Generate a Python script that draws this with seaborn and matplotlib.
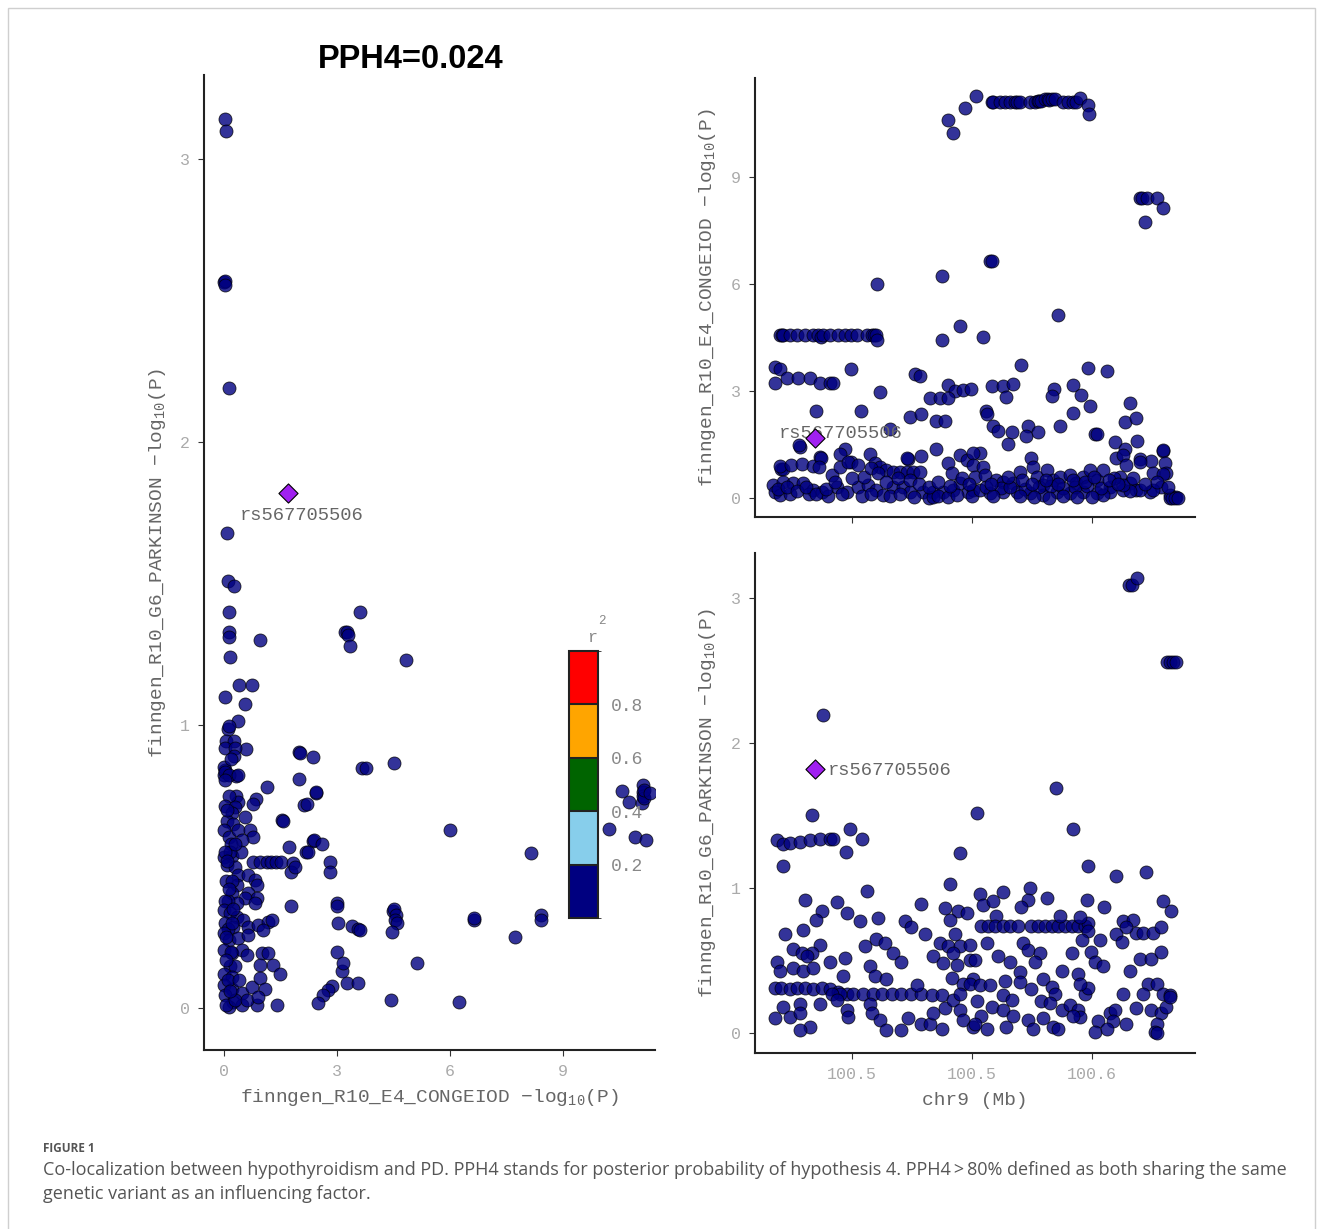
import pandas as pd
import seaborn as sns
import matplotlib as mpl
import matplotlib.pyplot as plt
from matplotlib.colors import ListedColormap, BoundaryNorm
from matplotlib.ticker import FuncFormatter
from matplotlib.patches import Rectangle

# ---- values ----
lead_snp = "rs567705506"
lead_pos = 100.5173          # chr9 position, Mb
lead_e4 = 1.69               # finngen_R10_E4_CONGEIOD -log10(P)
lead_pd = 1.82               # finngen_R10_G6_PARKINSON -log10(P)

# left panel: (E4 -log10P, PD -log10P)
scatter_pairs = [
    (0.03, 3.14), (0.05, 3.10), (0.00, 2.565), (0.02, 2.57), (0.04, 2.555), (0.13, 2.19), (0.09, 1.68),
    (0.10, 1.51), (0.27, 1.49), (0.12, 1.40), (0.12, 1.33), (0.13, 1.31), (0.15, 1.24), (0.95, 1.30),
    (0.04, 1.10), (0.40, 1.14), (0.74, 1.14), (0.56, 1.075), (0.36, 1.015), (0.10, 0.985), (0.12, 0.996),
    (0.06, 0.945), (0.27, 0.945), (0.59, 0.916), (0.04, 0.92), (0.29, 0.92), (0.27, 0.89),
    (0.02, 0.84), (0.00, 0.825), (0.31, 0.82), (0.00, 0.853), (0.04, 0.835), (0.12, 0.823), (0.03, 0.806),
    (0.38, 0.823), (1.13, 0.78), (0.86, 0.74), (0.77, 0.72), (0.31, 0.75), (0.37, 0.73), (0.12, 0.75),
    (0.03, 0.715), (0.29, 0.711), (0.20, 0.688), (0.56, 0.676), (0.08, 0.66), (0.25, 0.65),
    (0.00, 0.629), (0.12, 0.605), (0.38, 0.629), (0.69, 0.629), (0.78, 0.605), (0.47, 0.594), (0.18, 0.58),
    (0.00, 0.535), (0.20, 0.537), (0.45, 0.552), (0.07, 0.505), (0.29, 0.50), (0.15, 0.55), (0.02, 0.55),
    (0.77, 0.515), (0.95, 0.515), (1.13, 0.515), (1.26, 0.515), (1.39, 0.515), (1.52, 0.515),
    (0.38, 0.47), (0.65, 0.47), (0.82, 0.452), (0.87, 0.435), (0.34, 0.435), (0.20, 0.405), (0.65, 0.405),
    (0.87, 0.388), (0.56, 0.388), (0.34, 0.37), (0.82, 0.37), (0.05, 0.45), (0.22, 0.45), (0.10, 0.38),
    (0.03, 0.38), (0.00, 0.346), (0.16, 0.335), (0.34, 0.323), (0.03, 0.30), (0.25, 0.287), (0.51, 0.311),
    (0.65, 0.287), (0.91, 0.293), (1.18, 0.305), (1.04, 0.276), (1.27, 0.311), (0.25, 0.35), (0.10, 0.28),
    (0.00, 0.264), (0.12, 0.24), (0.38, 0.246), (0.65, 0.258), (0.00, 0.205), (0.20, 0.193), (0.47, 0.205),
    (0.60, 0.187), (0.06, 0.25), (0.18, 0.20), (1.00, 0.193), (1.18, 0.193), (1.31, 0.152), (1.49, 0.122),
    (0.96, 0.152), (0.15, 0.15), (0.30, 0.15), (0.00, 0.122), (0.20, 0.111), (0.00, 0.081), (0.20, 0.069),
    (0.03, 0.046), (0.25, 0.022), (0.47, 0.052), (0.73, 0.075), (0.96, 0.105), (1.09, 0.069), (0.10, 0.10),
    (0.40, 0.10), (0.12, 0.005), (0.47, 0.011), (0.87, 0.011), (1.40, 0.011), (0.05, 0.01), (0.30, 0.03),
    (0.60, 0.03), (0.90, 0.04), (0.08, 0.52), (0.14, 0.42), (0.22, 0.30), (0.06, 0.17), (0.16, 0.06),
    (0.28, 0.58), (0.09, 0.70), (0.18, 0.88),
    (1.54, 0.665), (1.57, 0.66), (1.99, 0.905), (2.01, 0.90), (2.35, 0.886), (1.99, 0.81), (2.13, 0.716),
    (2.20, 0.72), (2.43, 0.76), (2.45, 0.765), (1.73, 0.57), (2.37, 0.59), (2.40, 0.595), (2.59, 0.58),
    (2.17, 0.55), (2.22, 0.55), (2.81, 0.515), (2.81, 0.48), (1.84, 0.514), (1.79, 0.48), (1.88, 0.50),
    (1.79, 0.36), (3.20, 1.33), (3.25, 1.33), (3.30, 1.32), (3.34, 1.28), (3.60, 1.40), (4.83, 1.23),
    (3.65, 0.85), (3.77, 0.85), (4.51, 0.865),
    (2.99, 0.37), (3.01, 0.36), (3.03, 0.30), (3.39, 0.29), (3.55, 0.28), (3.61, 0.277), (2.99, 0.20),
    (3.12, 0.13), (3.16, 0.16), (3.25, 0.09), (3.56, 0.09), (2.86, 0.077), (2.77, 0.065), (2.62, 0.046),
    (2.50, 0.017), (4.49, 0.342), (4.52, 0.35), (4.55, 0.33), (4.54, 0.31), (4.58, 0.30), (4.45, 0.27),
    (4.43, 0.03), (5.12, 0.16), (6.00, 0.63), (6.22, 0.02), (6.62, 0.313), (6.64, 0.318), (7.73, 0.25),
    (8.13, 0.547), (8.40, 0.33), (8.41, 0.31),
    (10.21, 0.632), (10.56, 0.767), (10.74, 0.728), (10.90, 0.604), (11.09, 0.724), (11.11, 0.788),
    (11.11, 0.763), (11.12, 0.75), (11.14, 0.742), (11.15, 0.77), (11.19, 0.594), (11.30, 0.76),
]

# top right: (position Mb, E4 -log10P)
e4_region = [
    (100.5508, 11.25), (100.5485, 10.92), (100.5451, 10.59), (100.5461, 10.23),
    (100.5541, 11.10), (100.5545, 11.08), (100.5558, 11.10), (100.5569, 11.10), (100.5579, 11.10),
    (100.5590, 11.10), (100.5595, 11.10), (100.5600, 11.10), (100.5621, 11.10), (100.5631, 11.10),
    (100.5638, 11.12), (100.5640, 11.12), (100.5645, 11.12), (100.5652, 11.17), (100.5659, 11.17),
    (100.5660, 11.15), (100.5666, 11.17), (100.5673, 11.17), (100.5690, 11.10), (100.5701, 11.10),
    (100.5711, 11.10), (100.5718, 11.10), (100.5726, 11.20), (100.5742, 11.01), (100.5744, 10.76),
    (100.5850, 8.39), (100.5855, 8.39), (100.5864, 8.39), (100.5885, 8.39), (100.5860, 7.73),
    (100.5899, 8.13), (100.5538, 6.63), (100.5541, 6.63), (100.5438, 6.21), (100.5303, 6.00),
    (100.5680, 5.13), (100.5476, 4.83), (100.5524, 4.52), (100.5438, 4.42),
    (100.5100, 4.57), (100.5104, 4.57), (100.5107, 4.57), (100.5121, 4.57), (100.5135, 4.57),
    (100.5152, 4.57), (100.5169, 4.57), (100.5180, 4.57), (100.5185, 4.50), (100.5190, 4.57),
    (100.5204, 4.57), (100.5222, 4.57), (100.5235, 4.57), (100.5249, 4.57), (100.5260, 4.57),
    (100.5281, 4.57), (100.5291, 4.57), (100.5296, 4.57), (100.5301, 4.57), (100.5303, 4.42),
    (100.5090, 3.66), (100.5100, 3.61), (100.5090, 3.23), (100.5114, 3.37), (100.5138, 3.37),
    (100.5163, 3.37), (100.5183, 3.23), (100.5204, 3.23), (100.5210, 3.23), (100.5249, 3.61),
    (100.5381, 3.47), (100.5392, 3.42), (100.5308, 2.98), (100.5603, 3.73), (100.5742, 3.64),
    (100.5781, 3.56), (100.5451, 3.17), (100.5465, 3.00), (100.5482, 3.03), (100.5499, 3.05),
    (100.5541, 3.14), (100.5565, 3.14), (100.5586, 3.19), (100.5572, 2.83), (100.5671, 3.05),
    (100.5668, 2.86), (100.5711, 3.17), (100.5728, 2.89), (100.5746, 2.58), (100.5711, 2.39),
    (100.5413, 2.81), (100.5434, 2.79), (100.5451, 2.81), (100.5426, 2.17), (100.5444, 2.17),
    (100.5372, 2.27), (100.5393, 2.36), (100.5175, 2.44), (100.5268, 2.44), (100.5529, 2.44),
    (100.5531, 2.36), (100.5544, 2.01), (100.5555, 1.87), (100.5583, 1.86), (100.5576, 1.50),
    (100.5617, 2.01), (100.5613, 1.73), (100.5638, 1.86), (100.5684, 2.01), (100.5756, 1.78),
    (100.5760, 1.78), (100.5829, 2.67), (100.5819, 2.14), (100.5843, 2.23), (100.5798, 1.57),
    (100.5844, 1.59), (100.5850, 1.08), (100.5874, 1.03), (100.5899, 1.31), (100.5819, 1.36),
    (100.5329, 1.92), (100.5142, 1.42), (100.5235, 1.36), (100.5426, 1.36), (100.5517, 1.27),
    (100.5249, 1.01), (100.5367, 1.08), (100.5395, 1.17), (100.5183, 1.14), (100.5103, 0.80),
    (100.5106, 0.82), (100.5288, 1.22), (100.5140, 1.48),
    (100.5101, 0.90), (100.5124, 0.92), (100.5145, 0.95), (100.5169, 0.90), (100.5185, 1.11),
    (100.5182, 0.88), (100.5086, 0.36), (100.5107, 0.46), (100.5128, 0.41), (100.5149, 0.41),
    (100.5169, 0.22), (100.5187, 0.18), (100.5090, 0.18), (100.5208, 0.64), (100.5225, 0.88),
    (100.5225, 1.23), (100.5242, 1.02), (100.5263, 0.92), (100.5298, 0.97), (100.5308, 0.88),
    (100.5322, 0.78), (100.5336, 0.74), (100.5350, 0.74), (100.5364, 0.74), (100.5378, 0.74),
    (100.5392, 0.74), (100.5218, 0.32), (100.5239, 0.18), (100.5263, 0.32), (100.5284, 0.36),
    (100.5301, 0.22), (100.5315, 0.08), (100.5336, 0.32), (100.5357, 0.32), (100.5371, 0.18),
    (100.5399, 0.18), (100.5419, 0.18), (100.5440, 0.18), (100.5461, 0.22), (100.5475, 0.41),
    (100.5492, 0.18), (100.5503, 0.22), (100.5364, 1.11), (100.5451, 0.97), (100.5458, 0.69),
    (100.5475, 1.20), (100.5489, 1.06), (100.5503, 1.25),
    (100.5100, 0.08), (100.5120, 0.12), (100.5160, 0.10), (100.5200, 0.05), (100.5230, 0.10),
    (100.5270, 0.05), (100.5290, 0.12), (100.5330, 0.05), (100.5350, 0.10), (100.5380, 0.03),
    (100.5410, 0.00), (100.5420, 0.02), (100.5430, 0.05), (100.5450, 0.02), (100.5470, 0.08),
    (100.5500, 0.05),
    (100.5503, 0.92), (100.5524, 0.88), (100.5506, 0.60), (100.5527, 0.64), (100.5551, 0.50),
    (100.5565, 0.46), (100.5586, 0.41), (100.5600, 0.74), (100.5624, 1.11), (100.5628, 0.88),
    (100.5635, 0.60), (100.5649, 0.36), (100.5656, 0.78), (100.5670, 0.50), (100.5683, 0.60),
    (100.5704, 0.64), (100.5718, 0.41), (100.5732, 0.60), (100.5746, 0.78), (100.5760, 0.50),
    (100.5774, 0.78), (100.5788, 0.32), (100.5801, 1.11), (100.5815, 1.20), (100.5822, 0.92),
    (100.5808, 0.60), (100.5829, 0.41), (100.5843, 0.22), (100.5850, 1.02), (100.5899, 1.34),
    (100.5902, 0.97), (100.5878, 0.69), (100.5905, 0.69), (100.5912, 0.08), (100.5926, 0.04),
    (100.5517, 0.22), (100.5537, 0.13), (100.5565, 0.18), (100.5593, 0.18), (100.5621, 0.13),
    (100.5649, 0.08), (100.5677, 0.18), (100.5704, 0.13), (100.5732, 0.18), (100.5760, 0.13),
    (100.5788, 0.18), (100.5815, 0.22), (100.5871, 0.18), (100.5895, 0.32),
    (100.5913, 0.00), (100.5918, 0.00), (100.5923, 0.00), (100.5930, 0.00), (100.5899, 0.66),
    (100.5878, 0.23), (100.5850, 0.23), (100.5829, 0.19), (100.5815, 0.37), (100.5797, 0.56),
    (100.5774, 0.09), (100.5530, 0.30), (100.5560, 0.28), (100.5580, 0.32), (100.5610, 0.26),
    (100.5640, 0.30), (100.5665, 0.34), (100.5690, 0.28), (100.5715, 0.30), (100.5740, 0.34),
    (100.5770, 0.28), (100.5600, 0.05), (100.5660, 0.00), (100.5720, 0.02), (100.5690, 0.05),
    (100.5630, 0.02), (100.5750, 0.03), (100.5545, 0.05),
    (100.5095, 0.25), (100.5115, 0.30), (100.5135, 0.20), (100.5155, 0.30), (100.5175, 0.12),
    (100.5195, 0.25), (100.5215, 0.45), (100.5250, 0.55), (100.5275, 0.60), (100.5290, 0.85),
    (100.5305, 0.70), (100.5320, 0.45), (100.5345, 0.55), (100.5370, 0.50), (100.5390, 0.40),
    (100.5410, 0.30), (100.5430, 0.45), (100.5455, 0.35), (100.5480, 0.55), (100.5495, 0.40),
    (100.5540, 0.40), (100.5575, 0.60), (100.5605, 0.50), (100.5625, 0.40), (100.5655, 0.50),
    (100.5680, 0.40), (100.5710, 0.50), (100.5735, 0.45), (100.5755, 0.60), (100.5785, 0.50),
    (100.5805, 0.40), (100.5835, 0.55), (100.5860, 0.40), (100.5885, 0.45), (100.5908, 0.30),
]

# bottom right: (position Mb, PD -log10P)
pd_region = [
    (100.5828, 3.09), (100.5833, 3.09), (100.5845, 3.14), (100.5906, 2.56), (100.5913, 2.56),
    (100.5919, 2.56), (100.5926, 2.56), (100.5190, 2.19), (100.5166, 1.50), (100.5510, 1.52),
    (100.5676, 1.69), (100.5711, 1.41), (100.5742, 1.15), (100.5801, 1.08), (100.5863, 1.11),
    (100.5093, 1.33), (100.5107, 1.30), (100.5121, 1.31), (100.5142, 1.32), (100.5163, 1.33),
    (100.5183, 1.34), (100.5204, 1.34), (100.5211, 1.34), (100.5247, 1.41), (100.5270, 1.34),
    (100.5238, 1.25), (100.5106, 1.15), (100.5282, 0.98), (100.5152, 0.92), (100.5219, 0.90),
    (100.5187, 0.84), (100.5175, 0.78), (100.5239, 0.83), (100.5267, 0.77), (100.5305, 0.79),
    (100.5360, 0.77), (100.5374, 0.73), (100.5395, 0.89), (100.5454, 1.03), (100.5475, 1.24),
    (100.5444, 0.86), (100.5472, 0.84), (100.5489, 0.83), (100.5454, 0.78),
    (100.5110, 0.68), (100.5149, 0.71), (100.5183, 0.61), (100.5166, 0.55), (100.5128, 0.58),
    (100.5145, 0.55), (100.5156, 0.53), (100.5093, 0.49), (100.5100, 0.43), (100.5128, 0.45),
    (100.5149, 0.43), (100.5169, 0.45), (100.5204, 0.49), (100.5235, 0.52), (100.5277, 0.60),
    (100.5301, 0.65), (100.5319, 0.62), (100.5336, 0.55), (100.5353, 0.49), (100.5402, 0.68),
    (100.5419, 0.53), (100.5433, 0.62), (100.5451, 0.60), (100.5465, 0.68), (100.5475, 0.60),
    (100.5496, 0.50), (100.5439, 0.48), (100.5468, 0.47), (100.5461, 0.55),
    (100.5090, 0.31), (100.5103, 0.31), (100.5121, 0.30), (100.5135, 0.31), (100.5152, 0.31),
    (100.5169, 0.30), (100.5187, 0.31), (100.5204, 0.30), (100.5222, 0.28), (100.5239, 0.27),
    (100.5253, 0.27), (100.5274, 0.27), (100.5294, 0.27), (100.5312, 0.27), (100.5333, 0.27),
    (100.5353, 0.27), (100.5374, 0.27), (100.5395, 0.27), (100.5416, 0.26), (100.5437, 0.26),
    (100.5232, 0.39), (100.5225, 0.27), (100.5288, 0.46), (100.5298, 0.39), (100.5322, 0.37),
    (100.5385, 0.33), (100.5458, 0.38), (100.5482, 0.34), (100.5503, 0.37),
    (100.5107, 0.18), (100.5090, 0.10), (100.5121, 0.11), (100.5142, 0.20), (100.5142, 0.14),
    (100.5163, 0.04), (100.5142, 0.02), (100.5183, 0.20), (100.5208, 0.27), (100.5218, 0.23),
    (100.5239, 0.16), (100.5242, 0.11), (100.5288, 0.20), (100.5291, 0.14), (100.5308, 0.09),
    (100.5322, 0.02), (100.5353, 0.02), (100.5367, 0.10), (100.5395, 0.06), (100.5412, 0.06),
    (100.5419, 0.14), (100.5437, 0.03), (100.5444, 0.17), (100.5461, 0.23), (100.5475, 0.16),
    (100.5482, 0.09), (100.5503, 0.04), (100.5475, 0.27),
    (100.5622, 1.00), (100.5517, 0.96), (100.5565, 0.97), (100.5617, 0.92), (100.5657, 0.93),
    (100.5740, 0.92), (100.5775, 0.87), (100.5899, 0.91), (100.5915, 0.84), (100.5524, 0.88),
    (100.5544, 0.91), (100.5603, 0.87), (100.5551, 0.81),
    (100.5520, 0.74), (100.5534, 0.74), (100.5548, 0.74), (100.5565, 0.74), (100.5579, 0.74),
    (100.5596, 0.74), (100.5624, 0.74), (100.5638, 0.74), (100.5652, 0.74), (100.5666, 0.74),
    (100.5680, 0.74), (100.5694, 0.74), (100.5708, 0.74), (100.5722, 0.74), (100.5735, 0.74),
    (100.5742, 0.76), (100.5683, 0.81), (100.5725, 0.80), (100.5742, 0.70), (100.5729, 0.64),
    (100.5767, 0.64), (100.5749, 0.56), (100.5756, 0.49), (100.5774, 0.46), (100.5708, 0.55),
    (100.5815, 0.77), (100.5836, 0.78), (100.5843, 0.69), (100.5822, 0.73), (100.5801, 0.68),
    (100.5812, 0.63), (100.5857, 0.69), (100.5878, 0.69), (100.5895, 0.73), (100.5829, 0.43),
    (100.5850, 0.51), (100.5874, 0.51), (100.5895, 0.56),
    (100.5496, 0.61), (100.5531, 0.62), (100.5506, 0.50), (100.5555, 0.53), (100.5579, 0.49),
    (100.5607, 0.62), (100.5617, 0.57), (100.5642, 0.55), (100.5631, 0.49), (100.5600, 0.42),
    (100.5569, 0.36), (100.5687, 0.43), (100.5722, 0.41),
    (100.5496, 0.34), (100.5517, 0.33), (100.5537, 0.33), (100.5565, 0.26), (100.5583, 0.23),
    (100.5510, 0.22), (100.5541, 0.18), (100.5565, 0.16), (100.5586, 0.12), (100.5520, 0.12),
    (100.5506, 0.06), (100.5531, 0.03), (100.5572, 0.04), (100.5617, 0.09), (100.5628, 0.03),
    (100.5649, 0.10), (100.5670, 0.04), (100.5680, 0.03), (100.5600, 0.35), (100.5624, 0.30),
    (100.5649, 0.37), (100.5666, 0.32), (100.5673, 0.27), (100.5645, 0.22), (100.5663, 0.21),
    (100.5687, 0.16), (100.5704, 0.19), (100.5722, 0.16), (100.5735, 0.27), (100.5742, 0.31),
    (100.5725, 0.34), (100.5725, 0.11), (100.5711, 0.12), (100.5763, 0.08), (100.5756, 0.01),
    (100.5788, 0.14), (100.5798, 0.16), (100.5815, 0.27), (100.5794, 0.08), (100.5822, 0.06),
    (100.5843, 0.17), (100.5867, 0.34), (100.5885, 0.34), (100.5899, 0.27), (100.5874, 0.16),
    (100.5895, 0.14), (100.5905, 0.18), (100.5885, 0.06), (100.5881, 0.01), (100.5857, 0.27),
    (100.5912, 0.26), (100.5781, 0.03), (100.5913, 0.25), (100.5885, 0.00),
]

r2_bounds = [0, 0.2, 0.4, 0.6, 0.8, 1.0]
r2_colors = ["#000080", "#87CEEB", "#006400", "#FFA500", "#FF0000"]

caption_head = "FIGURE 1"
caption_lines = [
    "Co-localization between hypothyroidism and PD. PPH4 stands for posterior probability of hypothesis 4. "
    "PPH4\u2009>\u200980% defined as both sharing the same",
    "genetic variant as an influencing factor.",
]

# ---- drawing ----
sns.set_style("white")
plt.rcParams['font.family'] = ['Liberation Mono', 'DejaVu Sans']
plt.rcParams['mathtext.default'] = 'regular'

W, H = 1323, 1229
fig = plt.figure(figsize=(W / 100, H / 100), dpi=100)


def px_box(x0, y0, x1, y1):
    # pixel box (left, top, right, bottom) -> figure fraction rect
    return [x0 / W, 1 - y1 / H, (x1 - x0) / W, (y1 - y0) / H]


ax_l = fig.add_axes(px_box(204, 75, 655, 1050))
ax_t = fig.add_axes(px_box(755, 78, 1195, 517))
ax_b = fig.add_axes(px_box(755, 553, 1195, 1053))

pt_kw = dict(color="#000080", edgecolor="black", s=88, alpha=0.8, linewidth=0.6, zorder=2)
lead_kw = dict(marker="D", color="#A020F0", edgecolor="black", s=95, linewidth=0.8, zorder=4)

df_l = pd.DataFrame(scatter_pairs, columns=["e4", "pd"])
df_t = pd.DataFrame(e4_region, columns=["pos", "e4"])
df_b = pd.DataFrame(pd_region, columns=["pos", "pd"])

sns.scatterplot(data=df_l, x="e4", y="pd", ax=ax_l, legend=False, **pt_kw)
sns.scatterplot(x=[lead_e4], y=[lead_pd], ax=ax_l, legend=False, **lead_kw)
sns.scatterplot(data=df_t, x="pos", y="e4", ax=ax_t, legend=False, **pt_kw)
sns.scatterplot(x=[lead_pos], y=[lead_e4], ax=ax_t, legend=False, **lead_kw)
sns.scatterplot(data=df_b, x="pos", y="pd", ax=ax_b, legend=False, **pt_kw)
sns.scatterplot(x=[lead_pos], y=[lead_pd], ax=ax_b, legend=False, **lead_kw)

lab_kw = dict(fontsize=14, color="#666666")
ann_kw = dict(fontsize=13.5, color="#666666", va="center", ha="left", zorder=3)

ax_l.text(0.42, 1.74, lead_snp, **ann_kw)
ax_t.text(100.5098, 1.82, lead_snp, **ann_kw)
ax_b.text(100.5200, 1.807, lead_snp, **ann_kw)

ylab_pd = "finngen_R10_G6_PARKINSON \u2212log$_{10}$(P)"
ylab_e4 = "finngen_R10_E4_CONGEIOD \u2212log$_{10}$(P)"

for ax in (ax_l, ax_t, ax_b):
    sns.despine(ax=ax)
    for side in ("left", "bottom"):
        ax.spines[side].set_color("#222222")
        ax.spines[side].set_linewidth(1.5)
    ax.tick_params(bottom=True, left=True, length=4, width=0.8, color="#333333",
                   labelsize=12, labelcolor="#aaaaaa", pad=6)
    ax.set_xlabel("")
    ax.set_ylabel("")

ax_l.set_xlim(-0.53, 11.43)
ax_l.set_ylim(-0.148, 3.297)
ax_l.set_xticks([0, 3, 6, 9])
ax_l.set_yticks([0, 1, 2, 3])
ax_l.set_xlabel(ylab_e4, **lab_kw)
ax_l.set_ylabel(ylab_pd, **lab_kw)

pos_fmt = FuncFormatter(lambda v, _: f"{v:.1f}")
ax_t.set_xlim(100.5048, 100.5965)
ax_t.set_ylim(-0.53, 11.76)
ax_t.set_xticks([100.525, 100.55, 100.575])
ax_t.set_yticks([0, 3, 6, 9])
ax_t.tick_params(labelbottom=False)
ax_t.set_ylabel(ylab_e4, **lab_kw)

ax_b.set_xlim(100.5048, 100.5965)
ax_b.set_ylim(-0.138, 3.31)
ax_b.set_xticks([100.525, 100.55, 100.575])
ax_b.xaxis.set_major_formatter(pos_fmt)
ax_b.set_yticks([0, 1, 2, 3])
ax_b.set_xlabel("chr9 (Mb)", **lab_kw)
ax_b.set_ylabel(ylab_pd, **lab_kw)

ax_l.xaxis.set_label_coords(0.5, -0.038)
ax_l.yaxis.set_label_coords(-0.08, 0.5)
ax_t.yaxis.set_label_coords(-0.085, 0.5)
ax_b.yaxis.set_label_coords(-0.085, 0.5)
ax_b.xaxis.set_label_coords(0.5, -0.078)

# r2 colour key
cax = fig.add_axes(px_box(569, 651, 598, 918))
cmap = ListedColormap(r2_colors)
norm = BoundaryNorm(r2_bounds, cmap.N)
cb = fig.colorbar(mpl.cm.ScalarMappable(norm=norm, cmap=cmap), cax=cax,
                  ticks=r2_bounds[1:-1], drawedges=True)
cb.outline.set_linewidth(1.5)
cb.outline.set_edgecolor("#222222")
cb.dividers.set_linewidth(1.5)
cb.dividers.set_color("#222222")
cax.tick_params(length=0, labelsize=13, labelcolor="#888888", pad=9)
fig.text(592 / W, 1 - 638 / H, "r", fontsize=12, color="#888888", ha="center", va="center")
fig.text(602 / W, 1 - 621 / H, "2", fontsize=9, color="#888888", ha="center", va="center")

# title, caption, frame
fig.text(411 / W, 1 - 59 / H, "PPH4=0.024", family="Liberation Sans", fontweight="bold",
         fontsize=23.5, color="black", ha="center", va="center")
fig.text(43 / W, 1 - 1148 / H, caption_head, family="Open Sans", fontweight="bold",
         fontsize=8.5, color="#555555", va="center")
for i, line in enumerate(caption_lines):
    fig.text(43 / W, 1 - (1170 + 24 * i) / H, line, family="Open Sans", fontsize=13,
             color="#555555", va="center")
fig.add_artist(Rectangle((8 / W, -0.05), (1315 - 8) / W, 1 - 8 / H + 0.05,
                         transform=fig.transFigure, fill=False, edgecolor="#cfcfcf", linewidth=1))

fig.savefig("out.png", dpi=100)
